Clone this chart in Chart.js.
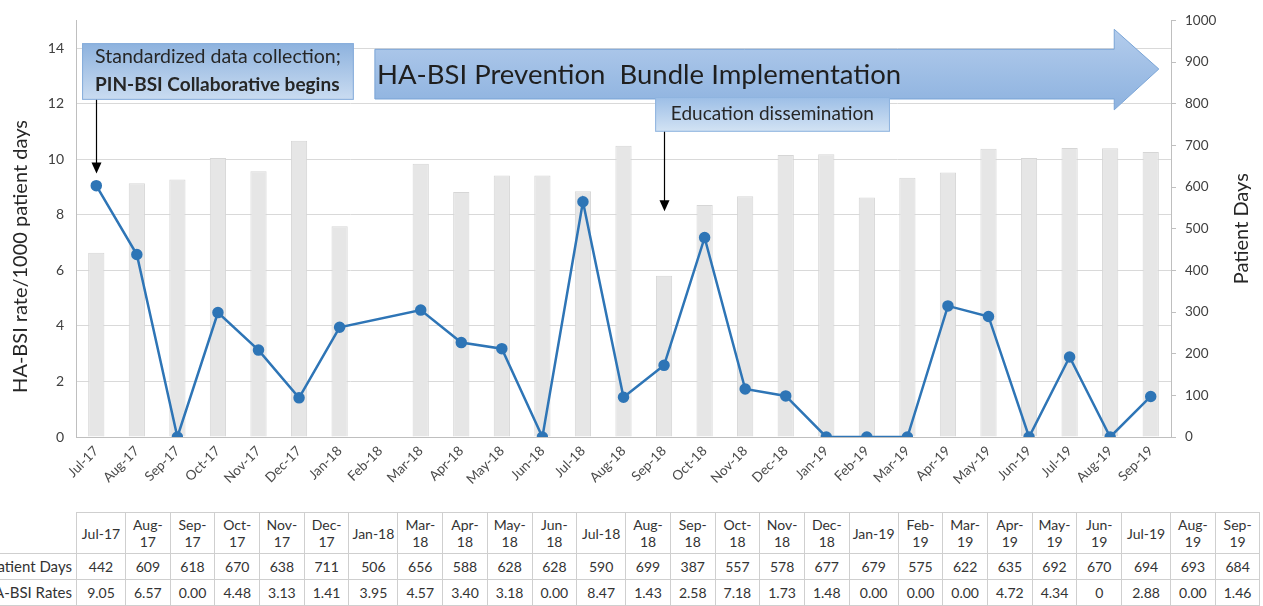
<!DOCTYPE html>
<html>
<head>
<meta charset="utf-8">
<title>HA-BSI rates and patient days</title>
<style>
  html, body { margin: 0; padding: 0; background: #fff; font-family: Lato, "Open Sans", sans-serif; }
  #wrap { position: relative; width: 1263px; height: 606px; overflow: hidden; }
  #chart { position: absolute; left: 0; top: 0; }
  #tbl { position: absolute; left: -24px; top: 512px; width: 1284px; border-collapse: collapse; table-layout: fixed; font-size: 14px; color: #333; }
  #tbl td { border: 1px solid #cfcfcf; text-align: center; padding: 0; line-height: 17px; overflow: hidden; }
  #tbl tr.head td { height: 40px; }
  #tbl tr.row td { height: 25px; }
  #tbl td.lab { text-align: right; padding-right: 4px; white-space: nowrap; font-size: 15px; }
  #tbl td.corner { border-top: none; border-left: none; }
</style>
</head>
<body>
<div id="wrap">
  <canvas id="chart" width="1263" height="505"></canvas>
  <table id="tbl"></table>
</div>

<script src="https://cdn.jsdelivr.net/npm/chart.js@4"></script>
<script>
  // months on the chart axis (Feb-18 has no data)
  const months = ['Jul-17', 'Aug-17', 'Sep-17', 'Oct-17', 'Nov-17', 'Dec-17', 'Jan-18', 'Feb-18', 'Mar-18',
    'Apr-18', 'May-18', 'Jun-18', 'Jul-18', 'Aug-18', 'Sep-18', 'Oct-18', 'Nov-18', 'Dec-18', 'Jan-19',
    'Feb-19', 'Mar-19', 'Apr-19', 'May-19', 'Jun-19', 'Jul-19', 'Aug-19', 'Sep-19']
  const patientDays = [442, 609, 618, 670, 638, 711, 506, null, 656, 588, 628, 628, 590, 699, 387, 557, 578,
    677, 679, 575, 622, 635, 692, 670, 694, 693, 684]
  const bsiRates = [9.05, 6.57, 0.00, 4.48, 3.13, 1.41, 3.95, null, 4.57, 3.40, 3.18, 0.00, 8.47, 1.43, 2.58,
    7.18, 1.73, 1.48, 0.00, 0.00, 0.00, 4.72, 4.34, 0, 2.88, 0.00, 1.46]
  // the table prints this month's rate as a bare "0"
  const plainZeroMonths = ['Jun-19']

  Chart.defaults.font.family = 'Lato'

  // callout boxes, arrows and the two axis titles
  const notes = {
    id: 'notes',
    afterDatasetsDraw(chart) {
      const ctx = chart.ctx
      const x = chart.scales.x, y = chart.scales.y, y2 = chart.scales.y2
      const px = v => x.getPixelForValue(v)
      const py = v => y.getPixelForValue(v)

      function box(x0, y0, x1, y1, top, bottom, edge) {
        const X0 = px(x0), X1 = px(x1), Y0 = py(y0), Y1 = py(y1)
        const g = ctx.createLinearGradient(0, Y0, 0, Y1)
        g.addColorStop(0, top)
        g.addColorStop(1, bottom)
        ctx.fillStyle = g
        ctx.fillRect(X0, Y0, X1 - X0, Y1 - Y0)
        ctx.strokeStyle = edge
        ctx.lineWidth = 1
        ctx.strokeRect(X0 + 0.5, Y0 + 0.5, X1 - X0 - 1, Y1 - Y0 - 1)
      }

      function pointer(xv, fromV, toV) {
        const X = Math.round(px(xv)) + 0.5, Y0 = py(fromV), Y1 = py(toV)
        ctx.strokeStyle = '#000'
        ctx.fillStyle = '#000'
        ctx.lineWidth = 1.2
        ctx.beginPath()
        ctx.moveTo(X, Y0)
        ctx.lineTo(X, Y1 - 10)
        ctx.stroke()
        ctx.beginPath()
        ctx.moveTo(X - 5, Y1 - 11)
        ctx.lineTo(X + 5, Y1 - 11)
        ctx.lineTo(X, Y1)
        ctx.closePath()
        ctx.fill()
      }

      function vtitle(text, cx, cy) {
        ctx.save()
        ctx.translate(cx, cy)
        ctx.rotate(-Math.PI / 2)
        ctx.fillStyle = '#262626'
        ctx.font = '20px Lato'
        ctx.textAlign = 'center'
        ctx.textBaseline = 'middle'
        ctx.fillText(text, 0, 0)
        ctx.restore()
      }

      ctx.save()

      vtitle('HA-BSI rate/1000 patient days', y.left + 21, py(6.5))
      vtitle('Patient Days', y2.right - 21, py(7.5))

      // big block arrow
      const bl = px(6.87), neck = px(25.1), tip = px(26.2)
      const bt = py(13.96), bb = py(12.17), ht = py(14.68), hb = py(11.78), ty = py(13.25)
      const g = ctx.createLinearGradient(0, ht, 0, hb)
      g.addColorStop(0, '#b3ccec')
      g.addColorStop(1, '#8db2df')
      ctx.beginPath()
      ctx.moveTo(bl, bt)
      ctx.lineTo(neck, bt)
      ctx.lineTo(neck, ht)
      ctx.lineTo(tip, ty)
      ctx.lineTo(neck, hb)
      ctx.lineTo(neck, bb)
      ctx.lineTo(bl, bb)
      ctx.closePath()
      ctx.fillStyle = g
      ctx.fill()
      ctx.strokeStyle = '#79a4d6'
      ctx.lineWidth = 1
      ctx.stroke()
      ctx.fillStyle = '#1f1f1f'
      ctx.font = '27.5px Lato'
      ctx.textBaseline = 'middle'
      ctx.textAlign = 'left'
      ctx.fillText('HA-BSI Prevention  Bundle Implementation', bl + 2, (bt + bb) / 2 + 1)

      // first callout
      box(-0.35, 14.18, 6.35, 12.14, '#8db2de', '#cadcf1', '#86addb')
      ctx.fillStyle = '#262626'
      ctx.font = '19.5px Lato'
      ctx.fillText('Standardized data collection;', px(-0.03), py(13.68))
      ctx.font = 'bold 19px Lato'
      ctx.fillText('PIN-BSI Collaborative begins', px(-0.03), py(12.68))
      pointer(0, 12.14, 9.49)

      // second callout
      box(13.78, 12.24, 19.57, 10.99, '#9cbee6', '#d3e3f4', '#8fb4df')
      ctx.fillStyle = '#262626'
      ctx.font = '19px Lato'
      ctx.textAlign = 'center'
      ctx.fillText('Education dissemination', px(16.67), py(11.62))
      pointer(14, 10.99, 8.13)

      ctx.restore()
    }
  }

  new Chart(document.getElementById('chart'), {
    data: {
      labels: months,
      datasets: [{
        type: 'line',
        label: 'HA-BSI Rates',
        data: bsiRates,
        yAxisID: 'y',
        borderColor: '#2e75b6',
        backgroundColor: '#2e75b6',
        pointBackgroundColor: '#2e75b6',
        pointBorderColor: '#2e75b6',
        borderWidth: 2.5,
        pointRadius: 4.5,
        spanGaps: true,
        tension: 0,
        order: 0,
      }, {
        type: 'bar',
        label: 'Patient Days',
        data: patientDays,
        yAxisID: 'y2',
        backgroundColor: '#e6e6e6',
        borderColor: '#d6d6d6',
        borderWidth: 1,
        barPercentage: 0.4,
        categoryPercentage: 1,
        order: 1,
      }]
    },
    options: {
      responsive: false,
      animation: false,
      layout: { padding: { top: 18 } },
      plugins: { legend: { display: false }, tooltip: { enabled: false } },
      scales: {
        x: {
          grid: { display: false, drawTicks: false },
          border: { display: true, color: '#bfbfbf' },
          ticks: { autoSkip: false, maxRotation: 45, minRotation: 45, color: '#4a4a4a', font: { size: 13.5 }, padding: 6 },
          afterFit: s => { s.height = 68 },
        },
        y: {
          position: 'left',
          min: 0,
          max: 15,
          ticks: { stepSize: 2, includeBounds: false, color: '#404040', font: { size: 14 }, padding: 12 },
          grid: { color: '#d9d9d9', drawTicks: false },
          border: { color: '#bfbfbf' },
          afterFit: s => { s.width = 76 },
        },
        y2: {
          position: 'right',
          min: 0,
          max: 1000,
          ticks: { stepSize: 100, color: '#404040', font: { size: 13.5 }, padding: 9, callback: v => String(v) },
          grid: { drawOnChartArea: false, tickLength: 5, color: '#bfbfbf' },
          border: { color: '#bfbfbf' },
          afterFit: s => { s.width = 92 },
        }
      }
    },
    plugins: [notes]
  })

  // data table under the chart, months with data only
  const tbl = document.getElementById('tbl')
  const cols = months.map((m, i) => i).filter(i => patientDays[i] !== null)
  const wide = m => m.startsWith('Jul') || m.startsWith('Jan')
  let html = '<colgroup><col style="width:100px">'
  cols.forEach(i => { html += '<col style="width:' + (wide(months[i]) ? 49 : 44.7) + 'px">' })
  html += '</colgroup><tr class="head"><td class="corner"></td>'
  cols.forEach(i => {
    const m = months[i]
    html += '<td>' + (wide(m) ? m : m.replace('-', '-<br>')) + '</td>'
  })
  html += '</tr><tr class="row"><td class="lab">Patient Days</td>'
  cols.forEach(i => { html += '<td>' + patientDays[i] + '</td>' })
  html += '</tr><tr class="row"><td class="lab">HA-BSI Rates</td>'
  cols.forEach(i => {
    const v = bsiRates[i]
    html += '<td>' + (plainZeroMonths.includes(months[i]) ? String(v) : v.toFixed(2)) + '</td>'
  })
  html += '</tr>'
  tbl.innerHTML = html
</script>
</body>
</html>
